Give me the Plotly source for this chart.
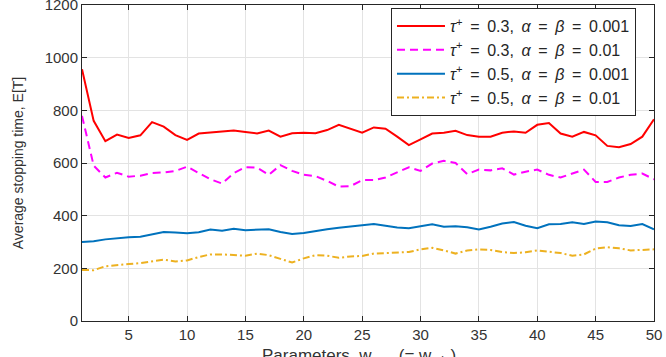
import plotly.graph_objects as go

x_vals = list(range(1, 51))

red_vals = [956, 760, 683, 708, 695, 705, 755, 738, 706, 688,
            712, 716, 718, 723, 718, 712, 723, 700, 713, 715,
            713, 725, 745, 730, 715, 735, 730, 700, 668, 690,
            712, 715, 722, 706, 700, 700, 715, 720, 715, 745,
            752, 712, 700, 718, 705, 665, 660, 672, 700, 766]

magenta_vals = [779, 590, 545, 563, 548, 552, 562, 564, 570, 586,
                562, 538, 522, 562, 584, 582, 555, 592, 570, 555,
                550, 532, 510, 512, 535, 535, 545, 565, 584, 570,
                598, 608, 600, 558, 575, 572, 580, 556, 567, 575,
                555, 545, 560, 575, 528, 528, 545, 555, 560, 538]

blue_vals = [300, 303, 310, 315, 318, 320, 330, 338, 336, 333,
             337, 347, 343, 350, 345, 347, 348, 338, 330, 334,
             342, 348, 354, 358, 364, 368, 362, 355, 352, 360,
             367, 358, 360, 356, 348, 358, 370, 376, 362, 352,
             367, 368, 375, 368, 378, 375, 364, 361, 368, 348]

orange_vals = [194, 193, 208, 213, 216, 220, 226, 233, 226, 230,
               243, 253, 253, 250, 248, 256, 250, 236, 222, 238,
               250, 248, 240, 245, 247, 256, 258, 260, 262, 272,
               278, 268, 256, 268, 272, 270, 262, 258, 261, 268,
               264, 258, 248, 253, 275, 280, 276, 268, 270, 272]

sp = "&nbsp;\u2009"
series_names = [
    f"<i>τ</i><sup>+</sup>{sp}={sp}0.3,{sp}<i>α</i>{sp}={sp}<i>β</i>{sp}={sp}0.001",
    f"<i>τ</i><sup>+</sup>{sp}={sp}0.3,{sp}<i>α</i>{sp}={sp}<i>β</i>{sp}={sp}0.01",
    f"<i>τ</i><sup>+</sup>{sp}={sp}0.5,{sp}<i>α</i>{sp}={sp}<i>β</i>{sp}={sp}0.001",
    f"<i>τ</i><sup>+</sup>{sp}={sp}0.5,{sp}<i>α</i>{sp}={sp}<i>β</i>{sp}={sp}0.01",
]
series_vals = [red_vals, magenta_vals, blue_vals, orange_vals]
series_colors = ["#ff0000", "#ff00ff", "#0072bd", "#edb120"]
series_dash = ["solid", "8px,5px", "solid", "7px,3px,2px,3px"]

x_ticks = [5, 10, 15, 20, 25, 30, 35, 40, 45, 50]
y_ticks = [0, 200, 400, 600, 800, 1000, 1200]

fig = go.Figure()
for name, vals, col, dash in zip(series_names, series_vals, series_colors, series_dash):
    fig.add_trace(go.Scatter(x=x_vals, y=vals, mode="lines", name=name,
                             line=dict(color=col, width=2, dash=dash)))

font_family = "Liberation Sans, Arial, sans-serif"
axis_common = dict(showline=True, linecolor="#262626", linewidth=1, mirror="ticks",
                   ticks="inside", ticklen=5, tickcolor="#262626",
                   showgrid=True, gridcolor="#e3e3e3", gridwidth=1, zeroline=False,
                   ticklabeloverflow="allow",
                   tickfont=dict(family=font_family, size=15, color="#333333"))

fig.update_layout(
    width=666, height=357,
    margin=dict(l=82, r=12, t=5, b=36, autoexpand=False),
    paper_bgcolor="white", plot_bgcolor="white",
    showlegend=True,
    legend=dict(x=0.9685, y=0.99, xanchor="right", yanchor="top",
                bgcolor="white", bordercolor="#262626", borderwidth=1,
                font=dict(family=font_family, size=16, color="#262626"),
                tracegroupgap=0, itemwidth=48),
    xaxis=dict(range=[1, 50], tickvals=x_ticks, automargin=False, **axis_common),
    yaxis=dict(range=[0, 1200], tickvals=y_ticks, automargin=False,
               title=dict(text="Average stopping time, E[T]",
                          font=dict(family=font_family, size=14, color="#333333"),
                          standoff=17),
               **axis_common),
    annotations=[dict(text="Parameters, w<sub>max</sub> (= w<sub>min</sub>)",
                      xref="paper", yref="paper", x=0.485, y=-0.073,
                      xanchor="center", yanchor="top", showarrow=False,
                      font=dict(family=font_family, size=17, color="#333333"))],
)

fig.write_html("out.html")
